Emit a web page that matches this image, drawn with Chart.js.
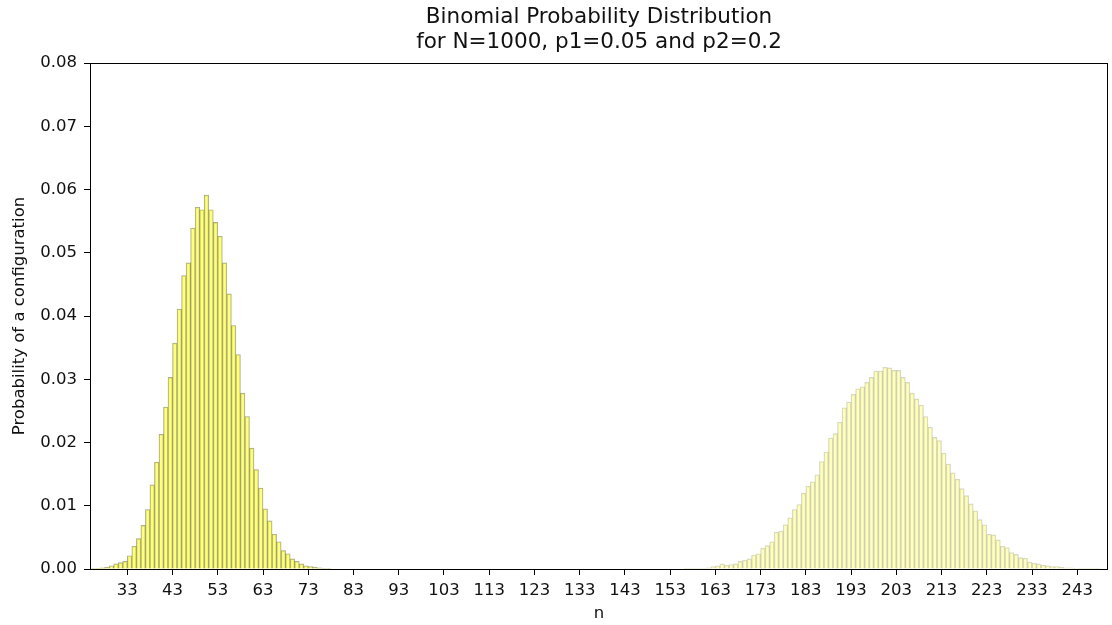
<!DOCTYPE html>
<html>
<head>
<meta charset="utf-8">
<title>Binomial Probability Distribution</title>
<script src="https://cdn.jsdelivr.net/npm/chart.js@4.4.1/dist/chart.umd.min.js"></script>
<style>
    body { margin: 0; background: #fff; }
    #wrap { width: 1112px; height: 625px; position: relative; }
</style>
</head>
<body>
<div id="wrap"><canvas id="binomChart"></canvas></div>
<script>
// counts n (left edge of each histogram bin) and the probability read for each
const countsP1 = [25, 26, 27, 28, 29, 30, 31, 32, 33, 34, 35, 36, 37, 38, 39, 40, 41, 42, 43, 44,
    45, 46, 47, 48, 49, 50, 51, 52, 53, 54, 55, 56, 57, 58, 59, 60, 61, 62, 63, 64,
    65, 66, 67, 68, 69, 70, 71, 72, 73, 74, 75, 76, 77];
const probP1 = [0.0001, 0.0001, 0.0002, 0.0003, 0.0005, 0.0008, 0.0010, 0.0012, 0.0021, 0.0036,
    0.0048, 0.0069, 0.0094, 0.0133, 0.0169, 0.0213, 0.0256, 0.0303, 0.0357, 0.0411,
    0.0464, 0.0484, 0.0539, 0.0572, 0.0568, 0.0591, 0.0568, 0.0548, 0.0526, 0.0484,
    0.0435, 0.0385, 0.0339, 0.0278, 0.0241, 0.0191, 0.0157, 0.0128, 0.0095, 0.0076,
    0.0055, 0.0043, 0.0029, 0.0024, 0.0016, 0.0012, 0.0008, 0.0005, 0.0004, 0.0003,
    0.0002, 0.0001, 0.0001];

const countsP2 = [156, 157, 158, 159, 160, 161, 162, 163, 164, 165, 166, 167, 168, 169, 170, 171,
    172, 173, 174, 175, 176, 177, 178, 179, 180, 181, 182, 183, 184, 185, 186, 187,
    188, 189, 190, 191, 192, 193, 194, 195, 196, 197, 198, 199, 200, 201, 202, 203,
    204, 205, 206, 207, 208, 209, 210, 211, 212, 213, 214, 215, 216, 217, 218, 219,
    220, 221, 222, 223, 224, 225, 226, 227, 228, 229, 230, 231, 232, 233, 234, 235,
    236, 237, 238, 239, 240, 241, 242, 243, 244, 245, 246, 247];
const probP2 = [0.0001, 0.0001, 0.0001, 0.0001, 0.0001, 0.0002, 0.0004, 0.0005, 0.0008, 0.0006,
    0.0007, 0.0008, 0.0012, 0.0014, 0.0016, 0.0022, 0.0024, 0.0033, 0.0037, 0.0043,
    0.0058, 0.0060, 0.0070, 0.0081, 0.0094, 0.0102, 0.0120, 0.0131, 0.0138, 0.0149,
    0.0170, 0.0185, 0.0207, 0.0214, 0.0232, 0.0255, 0.0264, 0.0276, 0.0285, 0.0288,
    0.0295, 0.0303, 0.0313, 0.0313, 0.0319, 0.0318, 0.0314, 0.0314, 0.0303, 0.0295,
    0.0278, 0.0269, 0.0259, 0.0241, 0.0224, 0.0208, 0.0203, 0.0183, 0.0166, 0.0152,
    0.0142, 0.0127, 0.0116, 0.0103, 0.0092, 0.0078, 0.0070, 0.0055, 0.0054, 0.0046,
    0.0036, 0.0034, 0.0026, 0.0023, 0.0018, 0.0017, 0.0011, 0.0009, 0.0008, 0.0006,
    0.0005, 0.0004, 0.0004, 0.0003, 0.0002, 0.0002, 0.0001, 0.0001, 0.0001, 0.0001,
    0.0001, 0.0001];

const xTickLabels = [33, 43, 53, 63, 73, 83, 93, 103, 113, 123, 133, 143, 153, 163, 173, 183,
    193, 203, 213, 223, 233, 243];
const yTickLabels = [0.00, 0.01, 0.02, 0.03, 0.04, 0.05, 0.06, 0.07, 0.08];

// bins are one unit wide, so each bar sits at the middle of its bin
function toBins(counts, probs) {
    return counts.map((n, i) => ({ x: n + 0.5, y: probs[i] }));
}

// matplotlib style box around the plot area
const frameBox = {
    id: 'frameBox',
    afterDraw(chart) {
        const { ctx, chartArea } = chart;
        ctx.save();
        ctx.strokeStyle = '#000';
        ctx.lineWidth = 1;
        ctx.strokeRect(Math.round(chartArea.left) + 0.5, Math.round(chartArea.top) + 0.5,
            Math.round(chartArea.right - chartArea.left) - 1, Math.round(chartArea.bottom - chartArea.top));
        ctx.restore();
    }
};

const tickFont = { family: 'DejaVu Sans', size: 16.5 };

new Chart(document.getElementById('binomChart'), {
    type: 'bar',
    data: {
        datasets: [
            {
                label: 'p1=0.05',
                data: toBins(countsP1, probP1),
                backgroundColor: 'rgba(255, 255, 0, 0.5)',
                borderColor: 'rgba(90, 90, 80, 0.55)',
                borderWidth: 0.7,
                barPercentage: 1,
                categoryPercentage: 1
            },
            {
                label: 'p2=0.2',
                data: toBins(countsP2, probP2),
                backgroundColor: 'rgba(255, 255, 0, 0.25)',
                borderColor: 'rgba(120, 120, 110, 0.3)',
                borderWidth: 0.7,
                barPercentage: 1,
                categoryPercentage: 1
            }
        ]
    },
    options: {
        responsive: true,
        maintainAspectRatio: false,
        animation: false,
        grouped: false,
        layout: { padding: { left: 0, right: 4, top: 0, bottom: 0 } },
        plugins: {
            legend: { display: false },
            tooltip: { enabled: false },
            title: {
                display: true,
                fullSize: false,
                text: ['Binomial Probability Distribution', 'for N=1000, p1=0.05 and p2=0.2'],
                color: '#111',
                font: { family: 'DejaVu Sans', size: 21.5, weight: 'normal', lineHeight: 1.163 },
                padding: { top: 5, bottom: 8 }
            }
        },
        scales: {
            x: {
                type: 'linear',
                min: 24.75,
                max: 249.8,
                offset: false,
                afterFit(scale) { scale.height = 56; },
                afterBuildTicks(scale) {
                    scale.ticks = xTickLabels.map(v => ({ value: v }));
                },
                border: { display: false },
                grid: { display: true, drawOnChartArea: false, drawTicks: true, tickLength: 6, tickColor: '#000', offset: false },
                ticks: { color: '#111', font: tickFont, padding: 6, autoSkip: false, maxRotation: 0 },
                title: {
                    display: true,
                    text: 'n',
                    color: '#111',
                    font: { family: 'DejaVu Sans', size: 16.5, lineHeight: 1.2 },
                    padding: { top: 0, bottom: 1 }
                }
            },
            y: {
                min: 0,
                max: 0.08,
                afterFit(scale) { scale.width = 90; },
                afterBuildTicks(scale) {
                    scale.ticks = yTickLabels.map(v => ({ value: v }));
                },
                border: { display: false },
                grid: { display: true, drawOnChartArea: false, drawTicks: true, tickLength: 6, tickColor: '#000' },
                ticks: {
                    color: '#111',
                    font: tickFont,
                    padding: 7,
                    callback: v => v.toFixed(2)
                },
                title: {
                    display: true,
                    text: 'Probability of a configuration',
                    color: '#111',
                    font: { family: 'DejaVu Sans', size: 16.5, lineHeight: 1.2 },
                    padding: { top: 10, bottom: 0 }
                }
            }
        }
    },
    plugins: [frameBox]
});
</script>
</body>
</html>
